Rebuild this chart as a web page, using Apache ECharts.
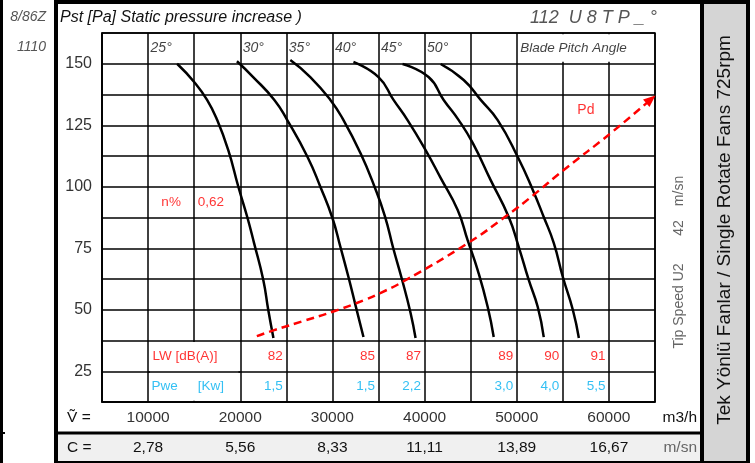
<!DOCTYPE html>
<html>
<head>
<meta charset="utf-8">
<script src="https://cdn.jsdelivr.net/npm/echarts@6/dist/echarts.min.js"></script>
<style>
html,body{margin:0;padding:0;background:#fff;}
#chart{width:755px;height:463px;}
</style>
</head>
<body>
<div id="chart"></div>
<script>
// ---------- data ----------
const xTicks = [10000, 20000, 30000, 40000, 50000, 60000];
const cLabels = ['2,78', '5,56', '8,33', '11,11', '13,89', '16,67'];
const yTicks = [25, 50, 75, 100, 125, 150];

const curve25 = [[13150,150],[15000,142.6],[16400,135.3],[17500,127.1],[18700,114.9],[19800,99.9],[20760,87.7],[21500,77.1],[22500,62.1],[23040,49.9],[23600,38.5]];
const curve30 = [[19640,151],[21400,144.6],[23700,135.3],[25100,127.1],[27300,112.1],[28700,99.9],[30000,87.3],[30870,75.5],[31740,63.3],[32500,51.9],[33370,38.9]];
const curve35 = [[25430,151.5],[27600,144.6],[29780,135.3],[31200,127.1],[33040,113.7],[34570,100],[35700,88],[36600,75],[37500,63],[38480,48.7],[39020,38.5]];
const curve40 = [[32280,150.7],[35000,144.6],[36630,135.3],[38150,127.1],[40110,114.9],[41740,103.6],[43590,90.5],[44670,78.3],[45760,66.1],[46850,51.1],[47500,38.9]];
const curve45 = [[37610,149.9],[40430,144.6],[42070,135.3],[43700,127.1],[45220,117.8],[47170,102.7],[49130,87.7],[50220,75.5],[51300,62.1],[52280,51.1],[52930,38.9]];
const curve50 = [[41740,149.9],[44240,143.4],[46090,135.3],[47930,127.1],[50110,112.1],[51740,98.7],[52930,87.7],[54020,77.1],[55000,63.3],[56090,49.9],[56740,38.5]];
const pdLine = [[21800,39.3],[23600,41.6],[27000,45.6],[30100,49.3],[33500,54],[35200,56.8],[37600,61.3],[44700,77.1],[49000,88.5],[51800,96.6],[55100,106.8],[60200,121.8],[64550,135.5]];

const angleNames = ['25°', '30°', '35°', '40°', '45°', '50°'];
const angleCellX = [10000, 20000, 25000, 30000, 35000, 40000];
const lwValues = ['82', '85', '87', '89', '90', '91'];
const pweValues = ['1,5', '1,5', '2,2', '3,0', '4,0', '5,5'];
const valueCellRightX = [25000, 35000, 40000, 50000, 55000, 60000];
const efficiency = '0,62';

// ---------- helpers ----------
const RED = '#ff0000', BLUE = '#00b0f0';
const FONT = 'Liberation Sans, Arial, sans-serif';
function textSeries(items, position, distance, style) {
  return {
    type: 'scatter', silent: true, z: 9, symbol: 'circle', symbolSize: 1,
    itemStyle: { color: 'rgba(0,0,0,0)' },
    data: items.map(it => ({ value: [it[0], it[1]], name: it[2] })),
    label: Object.assign({ show: true, formatter: '{b}', position: position, distance: distance,
      fontFamily: FONT }, style),
    animation: false
  };
}
function curve(data, extra) {
  return Object.assign({ type: 'line', data: data, smooth: true, symbol: 'none', z: 7, silent: true,
    lineStyle: { color: '#000', width: 2.5 }, animation: false }, extra || {});
}

const angleRow = angleNames.map((n, i) => [angleCellX[i], 156.25, n]);
const lwRow = lwValues.map((v, i) => [valueCellRightX[i], 31.25, v]);
const pweRow = pweValues.map((v, i) => [valueCellRightX[i], 18.75, v]);

const pdData = pdLine.map((p, i) => i === pdLine.length - 1
  ? { value: p, symbol: 'triangle', symbolSize: [10, 12], symbolRotate: -50, itemStyle: { color: RED } }
  : { value: p });

// white cells where the table has merged cells (no inner grid line)
const mergedCells = {
  markArea: { silent: true, z: 8, itemStyle: { color: '#fff', opacity: 1 },
    data: [
      [{ coord: [50200, 150.8] }, { coord: [64800, 162] }],
      [{ coord: [10200, 13] }, { coord: [19800, 36.9] }]
    ] },
  markLine: { silent: true, z: 9, symbol: 'none', label: { show: false },
    lineStyle: { color: '#000', width: 1.5, type: 'solid' },
    data: [[{ coord: [10000, 25] }, { coord: [20000, 25] }]] }
};

function gtext(x, y, text, opts) {
  return Object.assign({ type: 'text', x: x, y: y, z: 20, silent: true,
    style: Object.assign({ text: text, fontFamily: FONT, fontSize: 15, fill: '#111',
      textAlign: 'left', textVerticalAlign: 'middle' }, opts.style || {}) }, opts.el || {});
}

const chart = echarts.init(document.getElementById('chart'), null, { renderer: 'canvas' });
const option = {
  animation: false,
  backgroundColor: '#fff',
  grid: { left: 102, top: 33, width: 553, height: 369, show: true, borderColor: '#000', borderWidth: 1.5 },
  xAxis: [{
    type: 'value', min: 5000, max: 65000, interval: 5000, z: 6,
    axisLine: { show: true, lineStyle: { color: '#000', width: 1.5 } },
    axisTick: { show: false },
    splitLine: { show: true, lineStyle: { color: '#000', width: 1.5 } },
    axisLabel: { margin: 8, color: '#333', fontSize: 15.5, fontFamily: FONT,
      formatter: v => (xTicks.indexOf(v) >= 0 ? String(v) : '') }
  }, {
    type: 'value', min: 5000, max: 65000, interval: 5000, position: 'bottom', offset: 30, z: 6,
    axisLine: { show: false }, axisTick: { show: false }, splitLine: { show: false },
    axisLabel: { margin: 8, color: '#111', fontSize: 15.5, fontFamily: FONT,
      formatter: v => { const i = xTicks.indexOf(v); return i >= 0 ? cLabels[i] : ''; } }
  }],
  yAxis: {
    type: 'value', min: 12.5, max: 162.5, interval: 12.5, z: 6,
    axisLine: { show: true, lineStyle: { color: '#000', width: 1.5 } },
    axisTick: { show: false },
    splitLine: { show: true, lineStyle: { color: '#000', width: 1.5 } },
    axisLabel: { margin: 10, color: '#333', fontSize: 16, fontFamily: FONT,
      formatter: v => (yTicks.indexOf(v) >= 0 ? String(v) : '') }
  },
  series: [
    curve(curve25, mergedCells), curve(curve30), curve(curve35), curve(curve40), curve(curve45), curve(curve50),
    { type: 'line', data: pdData, smooth: true, symbol: 'none', showSymbol: true, z: 7, silent: true,
      lineStyle: { color: RED, width: 2.5, type: [8, 5] }, itemStyle: { color: RED }, animation: false },
    textSeries(angleRow, 'right', 2, { color: '#111', fontSize: 14, fontStyle: 'italic' }),
    textSeries([[50000, 156.25, 'Blade Pitch Angle']], 'right', 3, { color: '#111', fontSize: 13.5, fontStyle: 'italic' }),
    textSeries([[10000, 31.25, 'LW [dB(A)]']], 'right', 4, { color: RED, fontSize: 13.5 }),
    textSeries(lwRow, 'left', 3, { color: RED, fontSize: 13.5 }),
    textSeries([[10000, 18.75, 'Pwe'], [15000, 18.75, '[Kw]']], 'right', 3, { color: BLUE, fontSize: 13.5 }),
    textSeries(pweRow, 'left', 3, { color: BLUE, fontSize: 13.5 }),
    textSeries([[12500, 93.75, 'n%']], 'inside', 0, { color: RED, fontSize: 13.5 }),
    textSeries([[15000, 93.75, efficiency]], 'right', 3, { color: RED, fontSize: 13.5 }),
    textSeries([[57500, 131.25, 'Pd']], 'inside', 0, { color: RED, fontSize: 14 })
  ],
  graphic: [
    { type: 'rect', z: 0, silent: true, shape: { x: 56, y: 433, width: 646, height: 30 }, style: { fill: '#f0f0f0' } },
    { type: 'rect', z: 0, silent: true, shape: { x: 702, y: 0, width: 46, height: 463 }, style: { fill: '#d5d5d5' } },
    { type: 'line', z: 20, silent: true, shape: { x1: 1.5, y1: 0, x2: 1.5, y2: 463 }, style: { stroke: '#000', lineWidth: 3 } },
    { type: 'line', z: 20, silent: true, shape: { x1: 0, y1: 433, x2: 5, y2: 433 }, style: { stroke: '#000', lineWidth: 2 } },
    { type: 'rect', z: 20, silent: true, shape: { x: 56, y: 2, width: 692, height: 461 }, style: { fill: 'none', stroke: '#000', lineWidth: 4 } },
    { type: 'line', z: 20, silent: true, shape: { x1: 702, y1: 0, x2: 702, y2: 463 }, style: { stroke: '#000', lineWidth: 4 } },
    { type: 'line', z: 20, silent: true, shape: { x1: 56, y1: 433, x2: 702, y2: 433 }, style: { stroke: '#000', lineWidth: 3 } },
    gtext(46, 17, '8/86Z', { style: { textAlign: 'right', fontSize: 14, fontStyle: 'italic', fill: '#555' } }),
    gtext(46, 47, '1110', { style: { textAlign: 'right', fontSize: 14, fontStyle: 'italic', fill: '#555' } }),
    gtext(60, 18, 'Pst [Pa] Static pressure increase )', { style: { fontSize: 16, fontStyle: 'italic', fill: '#111' } }),
    gtext(657, 18, '112  U 8 T P _ °', { style: { textAlign: 'right', fontSize: 18, fontStyle: 'italic', fill: '#555' } }),
    gtext(67, 418, 'Ṽ =', { style: { fontSize: 15.5 } }),
    gtext(697, 418, 'm3/h', { style: { textAlign: 'right', fontSize: 15.5 } }),
    gtext(67, 448, 'C =', { style: { fontSize: 15.5 } }),
    gtext(697, 448, 'm/sn', { style: { textAlign: 'right', fontSize: 15.5, fill: '#666' } }),
    gtext(725, 230, 'Tek Yönlü Fanlar / Single Rotate Fans 725rpm', { style: { textAlign: 'center', fontSize: 19 }, el: { rotation: Math.PI / 2 } }),
    gtext(679, 306, 'Tip Speed U2', { style: { textAlign: 'center', fontSize: 14, fill: '#666' }, el: { rotation: Math.PI / 2 } }),
    gtext(679, 228, '42', { style: { textAlign: 'center', fontSize: 14, fill: '#666' }, el: { rotation: Math.PI / 2 } }),
    gtext(679, 191, 'm/sn', { style: { textAlign: 'center', fontSize: 14, fill: '#666' }, el: { rotation: Math.PI / 2 } })
  ]
};
chart.setOption(option);
</script>
</body>
</html>
